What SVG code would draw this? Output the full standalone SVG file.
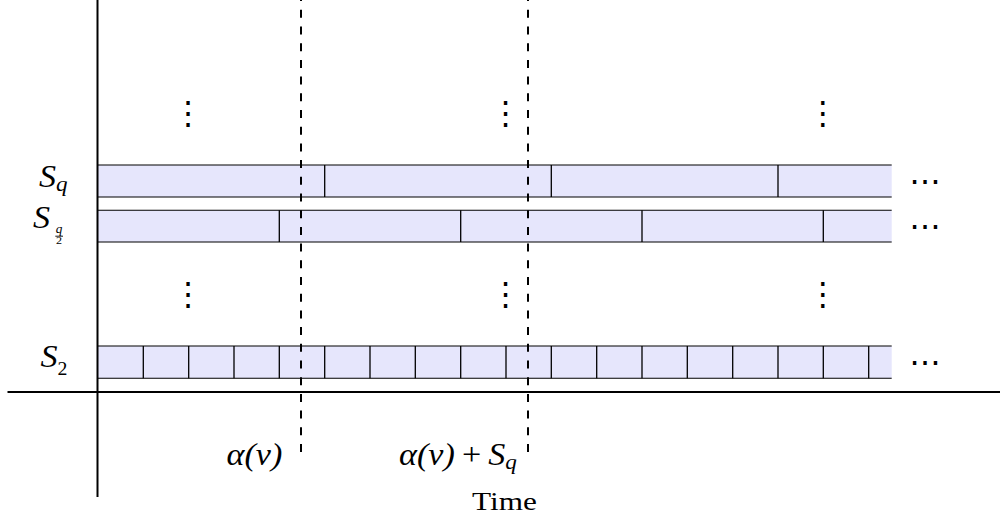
<svg xmlns="http://www.w3.org/2000/svg" width="1000" height="517" viewBox="0 0 1000 517">
<style>
.math{font-family:"Liberation Serif","Times New Roman",serif;font-style:italic;fill:#000}
.rm{font-family:"Liberation Serif","Times New Roman",serif;font-style:normal;fill:#000}
.dots{font-family:"DejaVu Sans",sans-serif;font-size:32px;fill:#000}
.bar{fill:#e6e6fc;stroke:none}
.edge{stroke:#000;stroke-width:1.1;fill:none}
.div{stroke:#000;stroke-width:1.3}
.axis{stroke:#000;stroke-width:2;fill:none}
.dash{stroke:#000;stroke-width:2;stroke-dasharray:8 8.7;fill:none}
</style>
<g id="bar-Sq">
<rect class="bar" x="98" y="165" width="793.7" height="32"/>
<path class="edge" d="M98 165H891.7M98 197H891.7"/>
<path class="div" d="M324.7 165V197M551.3 165V197M778 165V197"/>
</g>
<g id="bar-Sq2">
<rect class="bar" x="98" y="210.3" width="793.7" height="31.7"/>
<path class="edge" d="M98 210.3H891.7M98 242H891.7"/>
<path class="div" d="M279.3 210.3V242M460.7 210.3V242M642 210.3V242M823.3 210.3V242"/>
</g>
<g id="bar-S2">
<rect class="bar" x="98" y="346" width="793.7" height="32.3"/>
<path class="edge" d="M98 346H891.7M98 378.3H891.7"/>
<path class="div" d="M143.3 346V378.3M188.7 346V378.3M234 346V378.3M279.3 346V378.3M324.7 346V378.3M370 346V378.3M415.3 346V378.3M460.7 346V378.3M506 346V378.3M551.3 346V378.3M596.7 346V378.3M642 346V378.3M687.3 346V378.3M732.7 346V378.3M778 346V378.3M823.3 346V378.3M868.7 346V378.3"/>
</g>
<g id="axes">
<path class="axis" d="M97.5 0V497"/>
<path class="axis" d="M7.5 392H1000"/>
</g>
<g id="connectors">
<path class="dash" d="M301 452V0"/>
<path class="dash" d="M528 452V0"/>
</g>
<g id="label-Sq"><text class="math" font-size="31" transform="translate(39,187) scale(1.1,1)">S<tspan font-size="21" dy="4">q</tspan></text></g>
<g id="label-Sq2">
<text class="math" font-size="31" transform="translate(33,228) scale(1.1,1)">S</text>
<text class="math" font-size="12" transform="translate(55.8,233) scale(1.1,1)">q</text>
<path d="M55.3 236.2H63" stroke="#000" stroke-width="0.9"/>
<text class="rm" font-size="11" transform="translate(56,243.8) scale(1.1,1)">2</text>
</g>
<g id="label-S2"><text class="math" font-size="31" transform="translate(40.5,366.5) scale(1.1,1)">S<tspan class="rm" font-size="18" dy="8.5">2</tspan></text></g>
<g id="label-alpha"><text class="math" font-size="31" transform="translate(226.5,465) scale(1.1,1)">α(v)</text></g>
<g id="label-alphaSq"><text class="math" font-size="31" transform="translate(399,465) scale(1.1,1)">α(v)<tspan class="rm" dx="6.5">+</tspan><tspan dx="6.5">S</tspan><tspan font-size="21" dy="4">q</tspan></text></g>
<g id="label-time"><text class="rm" font-size="25" transform="translate(472,510) scale(1.25,1)">Time</text></g>
<g id="vdots">
<text class="dots" x="188.3" y="124" text-anchor="middle">⋮</text>
<text class="dots" x="505.7" y="124" text-anchor="middle">⋮</text>
<text class="dots" x="823" y="124" text-anchor="middle">⋮</text>
<text class="dots" x="188.3" y="305" text-anchor="middle">⋮</text>
<text class="dots" x="505.7" y="305" text-anchor="middle">⋮</text>
<text class="dots" x="823" y="305" text-anchor="middle">⋮</text>
</g>
<g id="hdots">
<text class="dots" x="925.3" y="192" text-anchor="middle">⋯</text>
<text class="dots" x="925.3" y="237" text-anchor="middle">⋯</text>
<text class="dots" x="925.3" y="373" text-anchor="middle">⋯</text>
</g>
</svg>
